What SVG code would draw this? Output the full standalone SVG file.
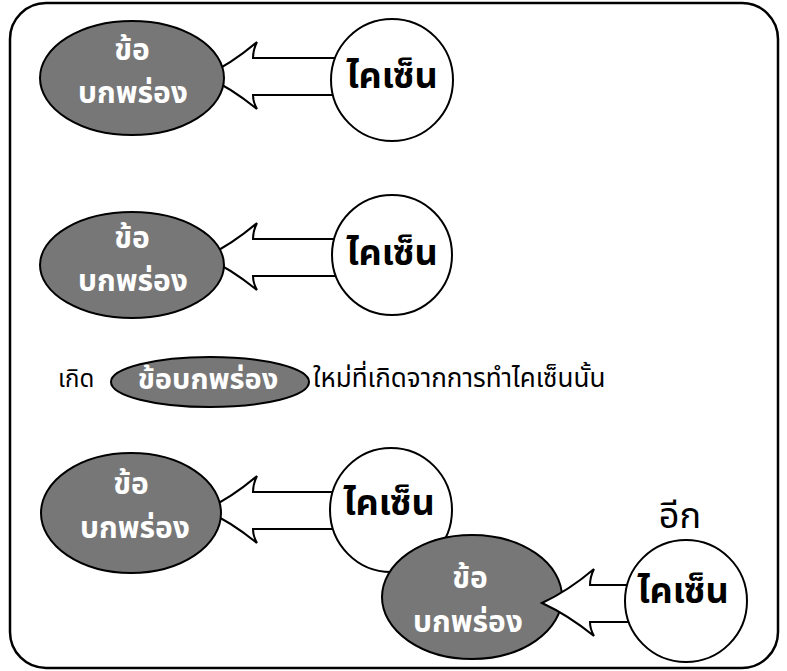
<svg xmlns="http://www.w3.org/2000/svg" width="787" height="671" viewBox="0 0 787 671">
<defs>
<style>
.frame{fill:#fff;stroke:#000;stroke-width:2.5}
.defect{fill:#777;stroke:#000;stroke-width:2}
.kz{fill:#fff;stroke:#000;stroke-width:2}
.arrow{fill:#fff;stroke:#000;stroke-width:2;stroke-linejoin:miter}
.wt{font-family:"Noto Sans Thai","Noto Sans","DejaVu Sans",sans-serif;font-weight:bold;fill:#fff;text-anchor:middle;font-size:30px}
.bt{font-family:"Noto Sans Thai","Noto Sans","DejaVu Sans",sans-serif;font-weight:bold;fill:#000;text-anchor:middle;font-size:36px}
.pt{font-family:"Noto Sans Thai","Noto Sans","DejaVu Sans",sans-serif;fill:#000}
</style>
<path id="arr" d="M0,0 Q26,-12 52,-34 Q48,-26 48,-18 L135,-18 L135,19 L48,19 Q48,26 52,33 Q26,12 0,0 Z"/>
</defs>
<rect class="frame" x="10" y="3" width="768" height="665" rx="36" ry="36"/>

<g id="connectors">
<use href="#arr" class="arrow" x="205" y="76"/>
<use href="#arr" class="arrow" x="205" y="257"/>
<use href="#arr" class="arrow" x="205" y="510"/>
</g>

<g id="defect1"><ellipse class="defect" cx="132" cy="78" rx="92" ry="57"/>
<text class="wt" x="132" y="60">ข้อ</text>
<text class="wt" x="133" y="103">บกพร่อง</text></g>
<g id="kaizen1"><circle class="kz" cx="392" cy="80" r="61"/>
<text class="bt" x="392" y="88">ไคเซ็น</text></g>

<g id="defect2"><ellipse class="defect" cx="132" cy="265" rx="92" ry="53"/>
<text class="wt" x="132" y="248">ข้อ</text>
<text class="wt" x="133" y="291">บกพร่อง</text></g>
<g id="kaizen2"><circle class="kz" cx="392" cy="255" r="60"/>
<text class="bt" x="392" y="265">ไคเซ็น</text></g>

<g id="sentence">
<text class="pt" x="58" y="387" font-size="24">เกิด</text>
<ellipse class="defect" cx="210" cy="382" rx="99" ry="25"/>
<text class="wt" x="208" y="389" style="font-size:29px">ข้อบกพร่อง</text>
<text class="pt" x="313" y="387" font-size="26">ใหม่ที่เกิดจากการทำไคเซ็นนั้น</text>
</g>

<g id="defect3"><ellipse class="defect" cx="131" cy="513" rx="90" ry="60"/>
<text class="wt" x="131" y="494">ข้อ</text>
<text class="wt" x="135" y="538">บกพร่อง</text></g>
<g id="kaizen3"><ellipse class="kz" cx="391" cy="510" rx="61" ry="62"/>
<text class="bt" x="389" y="515">ไคเซ็น</text></g>

<g id="defect4"><ellipse class="defect" cx="472" cy="597" rx="90" ry="62"/>
<text class="wt" x="470" y="588">ข้อ</text>
<text class="wt" x="468" y="632">บกพร่อง</text></g>
<use href="#arr" class="arrow" x="542" y="603"/>
<g id="kaizen4"><ellipse class="kz" cx="686" cy="601" rx="61" ry="61"/>
<text class="bt" x="683" y="603">ไคเซ็น</text></g>
<text class="pt" x="680" y="528" font-size="36" text-anchor="middle">อีก</text>
</svg>
